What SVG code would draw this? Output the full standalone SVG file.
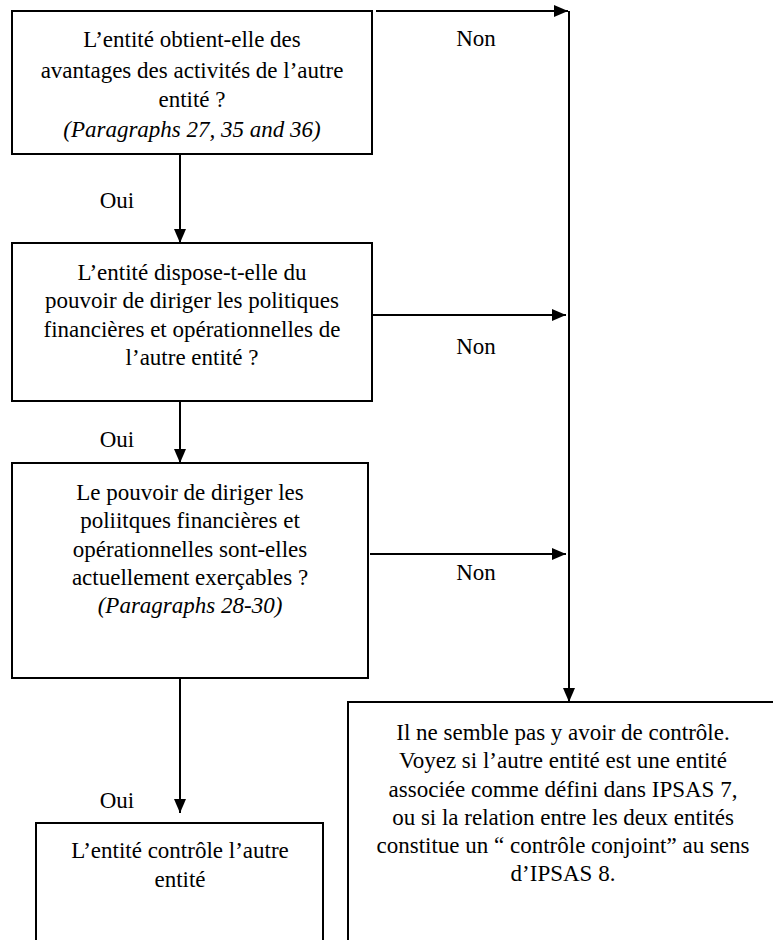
<svg xmlns="http://www.w3.org/2000/svg" width="773" height="940" viewBox="0 0 773 940">
<style>
.box{fill:#fff;stroke:#000;stroke-width:2}
.t{font-family:"Liberation Serif",serif;font-size:23px;fill:#000;text-anchor:middle}
.i{font-style:italic}
.c{fill:none;stroke:#000;stroke-width:2}
</style>
<defs>
<marker id="ah" viewBox="0 0 14 12" refX="14" refY="6" markerWidth="14" markerHeight="12" markerUnits="userSpaceOnUse" orient="auto">
<path d="M0,0 L14,6 L0,12 Z" fill="#000"/>
</marker>
<clipPath id="clip1"><rect x="12" y="11" width="360" height="132"/></clipPath>
</defs>
<rect width="773" height="940" fill="#fff"/>
<g id="connectors">
<line class="c" x1="376" y1="11" x2="568" y2="11" marker-end="url(#ah)"/>
<line class="c" x1="569" y1="11" x2="569" y2="702" marker-end="url(#ah)"/>
<line class="c" x1="372" y1="315" x2="566" y2="315" marker-end="url(#ah)"/>
<line class="c" x1="370" y1="554" x2="566" y2="554" marker-end="url(#ah)"/>
<line class="c" x1="180" y1="154" x2="180" y2="243" marker-end="url(#ah)"/>
<line class="c" x1="180" y1="401" x2="180" y2="463" marker-end="url(#ah)"/>
<line class="c" x1="180" y1="678" x2="180" y2="813" marker-end="url(#ah)"/>
<text class="t" x="476" y="46">Non</text>
<text class="t" x="476" y="354">Non</text>
<text class="t" x="476" y="580">Non</text>
<text class="t" x="117" y="208">Oui</text>
<text class="t" x="117" y="447">Oui</text>
<text class="t" x="117" y="808">Oui</text>
</g>
<g id="q1">
<rect class="box" x="12" y="11" width="360" height="143"/>
<g clip-path="url(#clip1)">
<text class="t" x="192" y="47">L’entité obtient-elle des</text>
<text class="t" x="192" y="78">avantages des activités de l’autre</text>
<text class="t" x="192" y="107">entité ?</text>
<text class="t i" x="192" y="137">(Paragraphs 27, 35 and 36)</text>
</g>
</g>
<g id="q2">
<rect class="box" x="12" y="243" width="360" height="158"/>
<text class="t" x="192" y="280">L’entité dispose-t-elle du</text>
<text class="t" x="192" y="308">pouvoir de diriger les politiques</text>
<text class="t" x="192" y="337">financières et opérationnelles de</text>
<text class="t" x="192" y="365">l’autre entité ?</text>
</g>
<g id="q3">
<rect class="box" x="12" y="463" width="356" height="215"/>
<text class="t" x="190" y="500">Le pouvoir de diriger les</text>
<text class="t" x="190" y="528">poliitques financières et</text>
<text class="t" x="190" y="557">opérationnelles sont-elles</text>
<text class="t" x="190" y="585">actuellement exerçables ?</text>
<text class="t i" x="190" y="613">(Paragraphs 28-30)</text>
</g>
<g id="yes">
<rect class="box" x="36" y="823" width="287" height="140"/>
<text class="t" x="180" y="858">L’entité contrôle l’autre</text>
<text class="t" x="180" y="887">entité</text>
</g>
<g id="no">
<rect class="box" x="348" y="702" width="460" height="260"/>
<text class="t" x="563" y="740">Il ne semble pas y avoir de contrôle.</text>
<text class="t" x="563" y="768"> Voyez si l’autre entité est une entité</text>
<text class="t" x="563" y="797">associée comme défini dans IPSAS 7,</text>
<text class="t" x="563" y="825">ou si la relation entre les deux entités</text>
<text class="t" x="563" y="853">constitue un “ contrôle conjoint” au sens</text>
<text class="t" x="563" y="881">d’IPSAS 8.</text>
</g>
</svg>
